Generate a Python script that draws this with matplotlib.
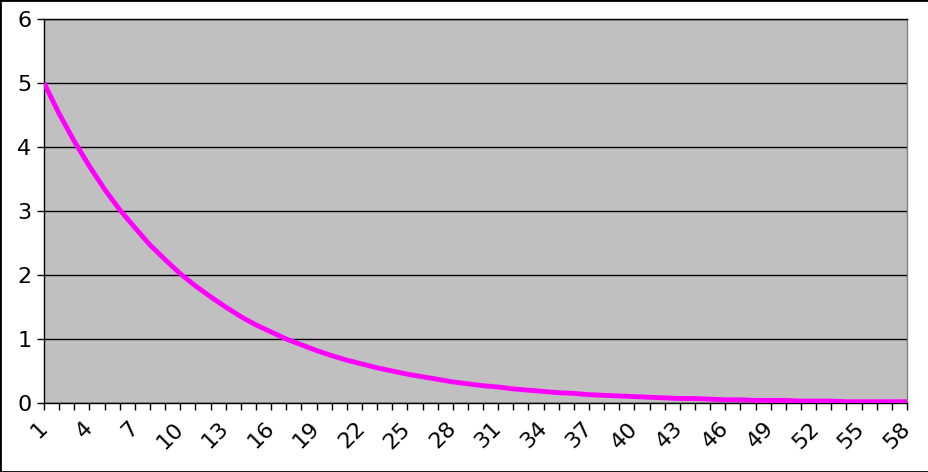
import matplotlib
matplotlib.use("Agg")
import matplotlib.pyplot as plt
from matplotlib.patches import Rectangle

categories = list(range(1, 59))
values = [5.00, 4.52, 4.09, 3.70, 3.34, 3.02, 2.74, 2.47, 2.24, 2.02,
          1.83, 1.66, 1.50, 1.35, 1.22, 1.11, 1.00, 0.91, 0.82, 0.74,
          0.67, 0.61, 0.55, 0.50, 0.45, 0.41, 0.37, 0.33, 0.30, 0.27,
          0.25, 0.22, 0.20, 0.18, 0.16, 0.15, 0.13, 0.12, 0.11, 0.10,
          0.09, 0.08, 0.07, 0.07, 0.06, 0.05, 0.05, 0.04, 0.04, 0.04,
          0.03, 0.03, 0.03, 0.02, 0.02, 0.02, 0.02, 0.02]
xtick_labels = [str(c) for c in categories[::3]]
yticks = [0, 1, 2, 3, 4, 5, 6]

W, H = 929, 472
fig = plt.figure(figsize=(W / 100, H / 100), dpi=100)
fig.patches.append(Rectangle((0, 0), 1, 1, transform=fig.transFigure,
                             fill=False, edgecolor='black', linewidth=2))

ax = fig.add_axes([44 / W, (H - 403) / H, 863 / W, 384 / H])
ax.set_facecolor('#C0C0C0')
ax.plot(categories, values, color='#FF00FF', linewidth=3.5, solid_capstyle='butt', zorder=3)

ax.set_xlim(1, 58)
ax.set_ylim(0, 6)
ax.set_yticks(yticks)
ax.set_yticklabels([str(v) for v in yticks])
ax.set_xticks(categories, minor=True)
ax.set_xticks(categories[::3])
ax.set_xticklabels(xtick_labels, rotation=45, ha='right', va='center', rotation_mode='anchor')
ax.tick_params(axis='x', which='both', direction='out', length=5, width=1, color='black', pad=11)
ax.tick_params(axis='y', direction='out', length=5, width=1, color='black', pad=4)
ax.tick_params(labelsize=16)
for lab in ax.get_xticklabels() + ax.get_yticklabels():
    lab.set_fontfamily('DejaVu Sans')

ax.yaxis.grid(True, color='black', linewidth=1)
ax.set_axisbelow(True)
for s in ['left', 'bottom', 'top']:
    ax.spines[s].set_color('black')
    ax.spines[s].set_linewidth(1)
ax.spines['right'].set_color('#808080')
ax.spines['right'].set_linewidth(1)

fig.savefig('out.png', dpi=100)
